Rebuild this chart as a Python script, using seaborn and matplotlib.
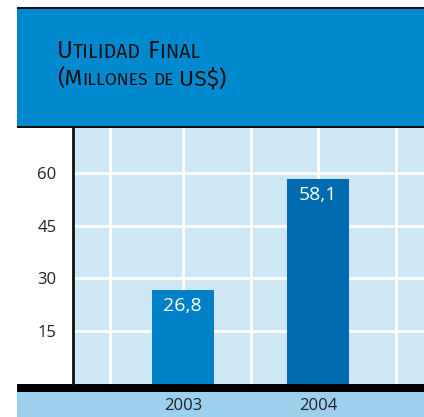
import matplotlib
matplotlib.use("Agg")
import matplotlib.pyplot as plt
import seaborn as sns
import pandas as pd
from matplotlib.patches import Rectangle
from matplotlib.offsetbox import TextArea, HPacker, VPacker, AnnotationBbox

# ---- data ----
years = ["2003", "2004"]
values = [26.8, 58.1]
value_labels = ["26,8", "58,1"]
y_ticks = [15, 30, 45, 60]
# title words, split into (text, is_capital) pieces to imitate small caps
title_line1 = [[("U", True), ("TILIDAD", False)], [("F", True), ("INAL", False)]]
title_line2 = [[("(M", True), ("ILLONES", False)], [("DE", False)], [("US$)", True)]]

# ---- colours ----
header_blue = "#0089CE"
plot_bg = "#CDE7F4"
band_blue = "#9DD0EC"
bar_colors = ["#0080C6", "#006AB0"]

W, H = 424, 417
DPI = 100
sns.set_theme(style="white")
plt.rcParams["font.family"] = ["Open Sans", "DejaVu Sans"]

fig = plt.figure(figsize=(W / DPI, H / DPI), dpi=DPI)
fig.patch.set_facecolor("white")

def fx(px):
    return px / W

def fy(py):
    return 1 - py / H

# header box
fig.patches.append(Rectangle((fx(17), fy(126)), fx(424 - 17), (126 - 8) / H,
                             transform=fig.transFigure, facecolor=header_blue,
                             edgecolor="none", zorder=-5))
# header top and bottom black lines
fig.patches.append(Rectangle((fx(17), fy(9)), fx(424 - 17), 2 / H,
                             transform=fig.transFigure, facecolor="#111111",
                             edgecolor="none", zorder=-4))
fig.patches.append(Rectangle((fx(17), fy(128)), fx(424 - 17), 2.5 / H,
                             transform=fig.transFigure, facecolor="#111111",
                             edgecolor="none", zorder=-4))
# bottom black band and light blue band
fig.patches.append(Rectangle((fx(17), fy(392)), fx(424 - 17), 8 / H,
                             transform=fig.transFigure, facecolor="#000000",
                             edgecolor="none", zorder=-4))
fig.patches.append(Rectangle((fx(17), 0), fx(424 - 17), (417 - 392) / H,
                             transform=fig.transFigure, facecolor=band_blue,
                             edgecolor="none", zorder=-5))

# main axes
ax = fig.add_axes([fx(73), fy(384), fx(424 - 73), (384 - 128) / H])
df = pd.DataFrame({"year": years, "value": values})
sns.barplot(data=df, x="year", y="value", hue="year", palette=bar_colors,
            width=0.46, legend=False, ax=ax, zorder=3, saturation=1,
            linewidth=0, edgecolor="none")
ax.set_facecolor(plot_bg)
ax.set_xlim(-0.81, 1.78)
ax.set_ylim(0, 72.7)
ax.set_yticks(y_ticks)
ax.set_yticklabels([str(t) for t in y_ticks], fontsize=12, color="#222222")
ax.set_xticks(range(len(years)))
ax.set_xticklabels(years, fontsize=12, color="#222222")
ax.set_xticks([-0.54, 0.5, 1.57], minor=True)
ax.tick_params(axis="y", length=0, pad=12)
ax.tick_params(axis="x", which="both", length=0, pad=10)
ax.grid(True, which="both", axis="x", color="white", linewidth=2, zorder=1)
ax.grid(True, which="major", axis="y", color="white", linewidth=2, zorder=1)
ax.set_axisbelow(True)
ax.set_xlabel("")
ax.set_ylabel("")
for s in ["top", "right", "bottom"]:
    ax.spines[s].set_visible(False)
ax.spines["left"].set_color("#111111")
ax.spines["left"].set_linewidth(2)

for patch, lab in zip(ax.patches, value_labels):
    x = patch.get_x() + patch.get_width() / 2
    ax.annotate(lab, (x, patch.get_height()), xytext=(0, -5),
                textcoords="offset points", ha="center", va="top",
                color="white", fontsize=14, zorder=5)

# title in small caps
def word(parts, big_size, small_size):
    boxes = []
    for txt, big in parts:
        boxes.append(TextArea(txt, textprops=dict(
            fontsize=big_size if big else small_size, color="#111111",
            fontweight="normal", family=["Fira Sans", "DejaVu Sans"])))
    return HPacker(children=boxes, align="baseline", pad=0, sep=0)

def line(words, big_size, small_size, sep):
    return HPacker(children=[word(w, big_size, small_size) for w in words],
                   align="baseline", pad=0, sep=sep)

title = VPacker(children=[line(title_line1, 17.5, 14, 5),
                          line(title_line2, 16.5, 12.5, 4)],
                align="left", pad=0, sep=3)
ab = AnnotationBbox(title, (fx(57), fy(40)), xycoords="figure fraction",
                    box_alignment=(0, 1), frameon=False, pad=0)
fig.add_artist(ab)

fig.savefig("out.png", dpi=DPI, facecolor="white")
